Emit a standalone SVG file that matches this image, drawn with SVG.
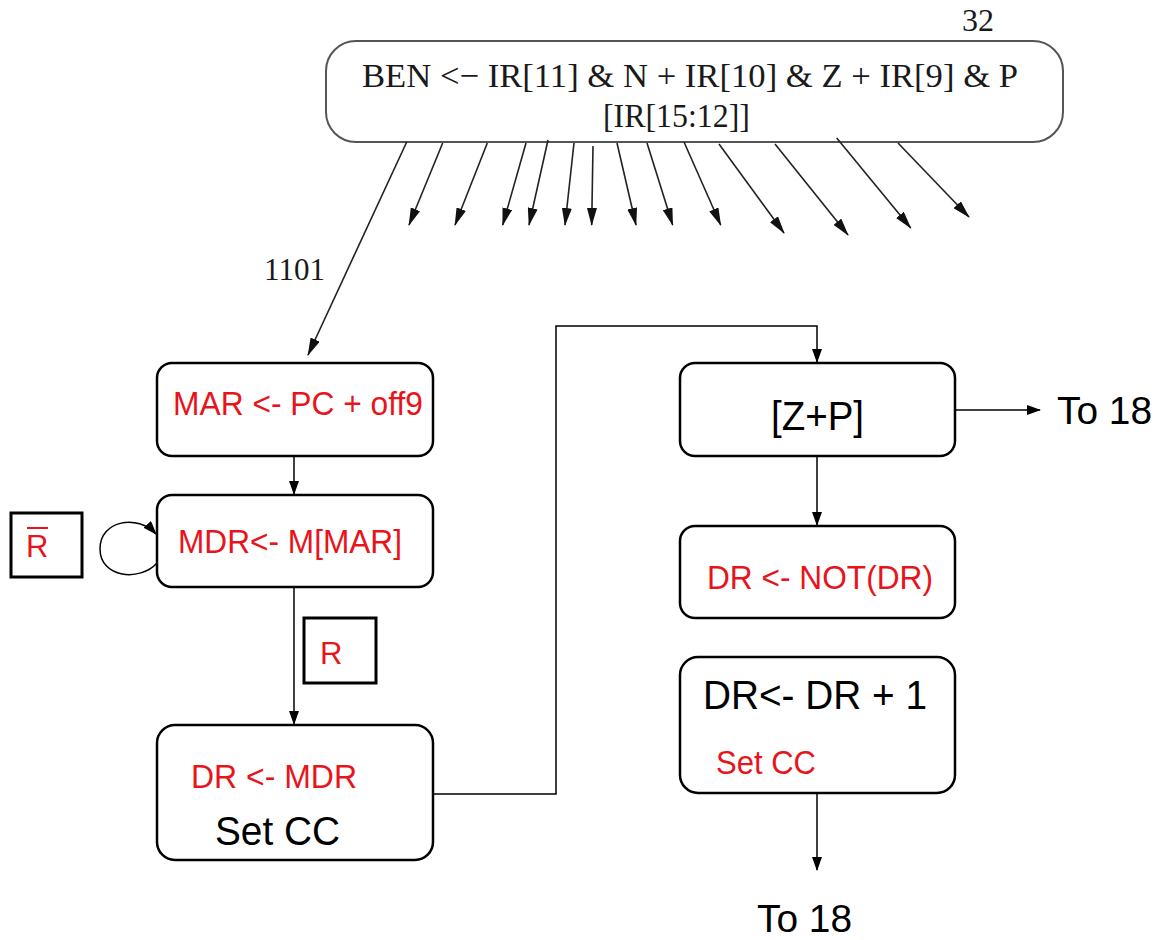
<svg xmlns="http://www.w3.org/2000/svg" width="1165" height="940" viewBox="0 0 1165 940">
<defs>
<marker id="ah" markerWidth="14" markerHeight="10" refX="13" refY="5" orient="auto" markerUnits="userSpaceOnUse"><path d="M0,0 L14,5 L0,10 Z" fill="#000"/></marker>
<marker id="at" markerWidth="18" markerHeight="10" refX="17" refY="5" orient="auto" markerUnits="userSpaceOnUse"><path d="M0,0 L18,5 L0,10 Z" fill="#111"/></marker>
</defs>
<style>
.box{fill:#fff;stroke:#000;stroke-width:2.5}
.tbox{fill:#fff;stroke:#555;stroke-width:2}
.sbox{fill:#fff;stroke:#000;stroke-width:3}
.ser{font-family:"Liberation Serif","Times New Roman",serif;fill:#1a1a1a}
.sans{font-family:"Liberation Sans",Arial,sans-serif}
.red{fill:#e8141c}
.blk{fill:#000}
.c{fill:none;stroke:#000;stroke-width:1.5}
.t{fill:none;stroke:#222;stroke-width:1.6}
</style>

<g id="node-ben">
<rect class="tbox" x="326" y="41" width="737" height="101" rx="30" ry="30"/>
<text class="ser" x="362" y="87" font-size="34" textLength="656" lengthAdjust="spacingAndGlyphs">BEN &lt;− IR[11] &amp; N + IR[10] &amp; Z + IR[9] &amp; P</text>
<text class="ser" x="603" y="127" font-size="34" textLength="147" lengthAdjust="spacingAndGlyphs">[IR[15:12]]</text>
<text class="ser" x="978" y="31" font-size="32" text-anchor="middle">32</text>
</g>

<g id="node-mar">
<rect class="box" x="157" y="363" width="276" height="93" rx="15" ry="15"/>
<text class="sans red" x="173" y="415" font-size="33" textLength="250" lengthAdjust="spacingAndGlyphs">MAR &lt;- PC + off9</text>
</g>

<g id="node-mdr">
<rect class="box" x="157" y="495" width="276" height="92" rx="15" ry="15"/>
<text class="sans red" x="178" y="553" font-size="33" textLength="224" lengthAdjust="spacingAndGlyphs">MDR&lt;- M[MAR]</text>
</g>

<g id="node-rbar">
<rect class="sbox" x="11" y="513" width="71" height="64"/>
<text class="sans red" x="26" y="557" font-size="31">R</text>
<line x1="27" y1="528" x2="48" y2="528" stroke="#e8141c" stroke-width="2"/>
</g>

<g id="node-r">
<rect class="sbox" x="304" y="618" width="72" height="65"/>
<text class="sans red" x="320" y="664" font-size="31">R</text>
</g>

<g id="node-dr">
<rect class="box" x="157" y="725" width="276" height="135" rx="18" ry="18"/>
<text class="sans red" x="191" y="788" font-size="33" textLength="166" lengthAdjust="spacingAndGlyphs">DR &lt;- MDR</text>
<text class="sans blk" x="215" y="845" font-size="40" textLength="125" lengthAdjust="spacingAndGlyphs">Set CC</text>
</g>

<g id="node-zp">
<rect class="box" x="680" y="363" width="275" height="93" rx="15" ry="15"/>
<text class="sans blk" x="771" y="430" font-size="40" textLength="93" lengthAdjust="spacingAndGlyphs">[Z+P]</text>
</g>

<g id="node-to18a">
<text class="sans blk" x="1057" y="424" font-size="39" textLength="95" lengthAdjust="spacingAndGlyphs">To 18</text>
</g>

<g id="node-not">
<rect class="box" x="680" y="526" width="275" height="92" rx="15" ry="15"/>
<text class="sans red" x="707" y="589" font-size="33" textLength="226" lengthAdjust="spacingAndGlyphs">DR &lt;- NOT(DR)</text>
</g>

<g id="node-inc">
<rect class="box" x="680" y="657" width="275" height="136" rx="18" ry="18"/>
<text class="sans blk" x="703" y="709" font-size="40" textLength="224" lengthAdjust="spacingAndGlyphs">DR&lt;- DR + 1</text>
<text class="sans red" x="716" y="774" font-size="33" textLength="100" lengthAdjust="spacingAndGlyphs">Set CC</text>
</g>

<g id="node-to18b">
<text class="sans blk" x="757" y="932" font-size="39" textLength="95" lengthAdjust="spacingAndGlyphs">To 18</text>
</g>

<g id="label-1101">
<text class="ser" x="264" y="280" font-size="31" textLength="61" lengthAdjust="spacingAndGlyphs">1101</text>
</g>

<g id="connectors">
<line class="t" x1="406.7" y1="142" x2="308" y2="355" marker-end="url(#at)"/>
<line class="t" x1="442.7" y1="143" x2="409" y2="225" marker-end="url(#at)"/>
<line class="t" x1="487.3" y1="143" x2="455" y2="225" marker-end="url(#at)"/>
<line class="t" x1="526" y1="143" x2="502.7" y2="225" marker-end="url(#at)"/>
<line class="t" x1="548" y1="140" x2="529" y2="225" marker-end="url(#at)"/>
<line class="t" x1="574" y1="143" x2="565" y2="225" marker-end="url(#at)"/>
<line class="t" x1="593" y1="146" x2="591.7" y2="225" marker-end="url(#at)"/>
<line class="t" x1="617" y1="143" x2="636" y2="225" marker-end="url(#at)"/>
<line class="t" x1="647" y1="143" x2="672.7" y2="225" marker-end="url(#at)"/>
<line class="t" x1="684" y1="142" x2="720.7" y2="225" marker-end="url(#at)"/>
<line class="t" x1="719" y1="144" x2="784" y2="233" marker-end="url(#at)"/>
<line class="t" x1="775" y1="144" x2="848" y2="235" marker-end="url(#at)"/>
<line class="t" x1="836.7" y1="138" x2="910.7" y2="228" marker-end="url(#at)"/>
<line class="t" x1="898" y1="143" x2="969" y2="217" marker-end="url(#at)"/>

<line class="c" x1="294" y1="456" x2="294" y2="494" marker-end="url(#ah)"/>
<path class="c" d="M157,563 C140,582 100,578 100,549 C100,520 138,514 156,534" marker-end="url(#ah)"/>
<line class="c" x1="294" y1="587" x2="294" y2="724" marker-end="url(#ah)"/>
<path class="c" d="M433,794 L556,794 L556,326 L817,326 L817,362" marker-end="url(#ah)"/>
<line class="c" x1="955" y1="410" x2="1040" y2="410" marker-end="url(#ah)"/>
<line class="c" x1="817" y1="456" x2="817" y2="525" marker-end="url(#ah)"/>
<line class="c" x1="817" y1="793" x2="817" y2="870" marker-end="url(#ah)"/>
</g>
</svg>
